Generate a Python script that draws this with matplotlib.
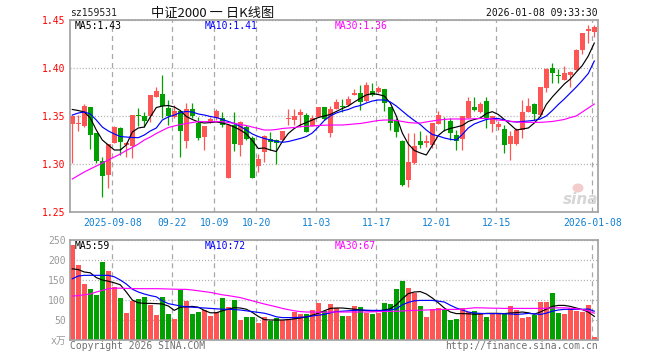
import matplotlib
matplotlib.use('Agg')
import matplotlib.pyplot as plt
from matplotlib.patches import Ellipse

# daily bars 2025-08-28 .. 2026-01-08 (88 trading days)
opens = [1.3417, 1.3419, 1.3396, 1.3594, 1.3320, 1.3034, 1.2885, 1.3222, 1.3375, 1.3203,
         1.3191, 1.3510, 1.3503, 1.3503, 1.3701, 1.3729, 1.3586, 1.3486, 1.3552, 1.3243,
         1.3573, 1.3424, 1.3284, 1.3440, 1.3476, 1.3483, 1.2854, 1.3411, 1.3198, 1.3389,
         1.3268, 1.2982, 1.3125, 1.3257, 1.3250, 1.3253, 1.3466, 1.3461, 1.3510, 1.3510,
         1.3398, 1.3493, 1.3589, 1.3323, 1.3571, 1.3604, 1.3615, 1.3719, 1.3736, 1.3656,
         1.3764, 1.3747, 1.3779, 1.3594, 1.3458, 1.3240, 1.2833, 1.3010, 1.3240, 1.3214,
         1.3193, 1.3420, 1.3482, 1.3448, 1.3307, 1.3264, 1.3476, 1.3594, 1.3542, 1.3656,
         1.3420, 1.3389, 1.3361, 1.3208, 1.3208, 1.3349, 1.3545, 1.3622, 1.3510, 1.3792,
         1.3997, 1.3927, 1.3878, 1.3922, 1.3979, 1.4188, 1.4385, 1.4378]
highs = [1.3510, 1.3510, 1.3622, 1.3595, 1.3323, 1.3076, 1.3210, 1.3396, 1.3385, 1.3229,
         1.3512, 1.3580, 1.3545, 1.3720, 1.3799, 1.3927, 1.3667, 1.3615, 1.3555, 1.3632,
         1.3635, 1.3493, 1.3398, 1.3490, 1.3568, 1.3545, 1.3417, 1.3545, 1.3448, 1.3406,
         1.3292, 1.3104, 1.3302, 1.3336, 1.3260, 1.3345, 1.3570, 1.3570, 1.3573, 1.3528,
         1.3510, 1.3597, 1.3597, 1.3604, 1.3674, 1.3672, 1.3708, 1.3778, 1.3823, 1.3857,
         1.3841, 1.3813, 1.3781, 1.3595, 1.3479, 1.3250, 1.3318, 1.3320, 1.3344, 1.3297,
         1.3427, 1.3549, 1.3493, 1.3476, 1.3354, 1.3500, 1.3700, 1.3693, 1.3646, 1.3703,
         1.3505, 1.3448, 1.3406, 1.3344, 1.3375, 1.3667, 1.3684, 1.3635, 1.3807, 1.3995,
         1.4055, 1.3986, 1.4021, 1.3964, 1.4193, 1.4365, 1.4448, 1.4448]
lows = [1.3007, 1.3347, 1.3390, 1.3156, 1.3007, 1.2659, 1.2753, 1.3219, 1.3094, 1.3076,
        1.3066, 1.3391, 1.3389, 1.3441, 1.3698, 1.3476, 1.3406, 1.3479, 1.3076, 1.3167,
        1.3479, 1.3250, 1.3146, 1.3430, 1.3458, 1.3385, 1.2851, 1.3135, 1.3086, 1.3250,
        1.2854, 1.2917, 1.3024, 1.3146, 1.3000, 1.3250, 1.3406, 1.3406, 1.3382, 1.3333,
        1.3396, 1.3490, 1.3458, 1.3284, 1.3568, 1.3542, 1.3609, 1.3714, 1.3563, 1.3651,
        1.3708, 1.3740, 1.3547, 1.3354, 1.3284, 1.2771, 1.2760, 1.3000, 1.3164, 1.3182,
        1.3167, 1.3417, 1.3344, 1.3250, 1.3146, 1.3151, 1.3474, 1.3547, 1.3536, 1.3372,
        1.3336, 1.3354, 1.3111, 1.3042, 1.3198, 1.3268, 1.3542, 1.3458, 1.3500, 1.3750,
        1.3841, 1.3841, 1.3875, 1.3799, 1.3974, 1.4146, 1.4264, 1.4320]
closes = [1.3503, 1.3427, 1.3604, 1.3302, 1.3031, 1.2878, 1.3208, 1.3385, 1.3232, 1.3219,
          1.3510, 1.3500, 1.3451, 1.3719, 1.3764, 1.3604, 1.3500, 1.3552, 1.3344, 1.3573,
          1.3500, 1.3268, 1.3396, 1.3470, 1.3555, 1.3403, 1.3411, 1.3211, 1.3438, 1.3260,
          1.2857, 1.3052, 1.3292, 1.3232, 1.3216, 1.3344, 1.3484, 1.3500, 1.3542, 1.3336,
          1.3474, 1.3589, 1.3467, 1.3573, 1.3649, 1.3591, 1.3677, 1.3736, 1.3649, 1.3823,
          1.3719, 1.3792, 1.3635, 1.3432, 1.3336, 1.2781, 1.3018, 1.3188, 1.3193, 1.3240,
          1.3424, 1.3510, 1.3474, 1.3323, 1.3240, 1.3500, 1.3661, 1.3563, 1.3625, 1.3484,
          1.3500, 1.3417, 1.3203, 1.3292, 1.3354, 1.3545, 1.3604, 1.3524, 1.3802, 1.3990,
          1.3948, 1.3915, 1.3948, 1.3961, 1.4188, 1.4361, 1.4403, 1.4424]

ma5 = [1.3568, 1.3557, 1.3542, 1.3479, 1.3354, 1.3250, 1.3198, 1.3146, 1.3146, 1.3198,
       1.3333, 1.3375, 1.3385, 1.3490, 1.3588, 1.3604, 1.3609, 1.3594, 1.3557, 1.3495,
       1.3464, 1.3438, 1.3427, 1.3432, 1.3438, 1.3427, 1.3411, 1.3385, 1.3354, 1.3313,
       1.3245, 1.3161, 1.3167, 1.3146, 1.3130, 1.3234, 1.3318, 1.3370, 1.3406, 1.3432,
       1.3458, 1.3484, 1.3500, 1.3516, 1.3547, 1.3578, 1.3604, 1.3646, 1.3684, 1.3719,
       1.3734, 1.3724, 1.3708, 1.3635, 1.3500, 1.3323, 1.3208, 1.3141, 1.3115, 1.3094,
       1.3193, 1.3297, 1.3349, 1.3370, 1.3385, 1.3401, 1.3443, 1.3464, 1.3479, 1.3526,
       1.3545, 1.3516, 1.3464, 1.3411, 1.3354, 1.3365, 1.3375, 1.3427, 1.3495, 1.3620,
       1.3698, 1.3766, 1.3833, 1.3885, 1.3958, 1.4026, 1.4125, 1.4260]
ma10 = [1.3510, 1.3531, 1.3542, 1.3521, 1.3458, 1.3385, 1.3344, 1.3313, 1.3286, 1.3281,
        1.3276, 1.3274, 1.3302, 1.3344, 1.3375, 1.3458, 1.3490, 1.3510, 1.3536, 1.3547,
        1.3542, 1.3521, 1.3510, 1.3495, 1.3484, 1.3464, 1.3443, 1.3422, 1.3391, 1.3354,
        1.3313, 1.3286, 1.3266, 1.3250, 1.3236, 1.3226, 1.3234, 1.3250, 1.3266, 1.3286,
        1.3323, 1.3385, 1.3453, 1.3500, 1.3531, 1.3552, 1.3568, 1.3594, 1.3609, 1.3635,
        1.3656, 1.3667, 1.3667, 1.3646, 1.3604, 1.3552, 1.3500, 1.3453, 1.3411, 1.3354,
        1.3307, 1.3292, 1.3271, 1.3257, 1.3250, 1.3307, 1.3375, 1.3417, 1.3441, 1.3464,
        1.3474, 1.3474, 1.3458, 1.3443, 1.3438, 1.3443, 1.3448, 1.3455, 1.3469, 1.3500,
        1.3557, 1.3620, 1.3677, 1.3740, 1.3802, 1.3870, 1.3943, 1.4073]
ma30 = [1.2844, 1.2880, 1.2917, 1.2948, 1.2979, 1.3010, 1.3042, 1.3073, 1.3104, 1.3141,
        1.3172, 1.3208, 1.3250, 1.3281, 1.3318, 1.3349, 1.3380, 1.3396, 1.3411, 1.3422,
        1.3432, 1.3441, 1.3441, 1.3441, 1.3441, 1.3441, 1.3432, 1.3424, 1.3411, 1.3401,
        1.3385, 1.3370, 1.3354, 1.3354, 1.3359, 1.3370, 1.3375, 1.3380, 1.3389, 1.3393,
        1.3396, 1.3401, 1.3404, 1.3406, 1.3406, 1.3406, 1.3411, 1.3417, 1.3422, 1.3432,
        1.3443, 1.3453, 1.3458, 1.3458, 1.3453, 1.3443, 1.3432, 1.3427, 1.3427, 1.3438,
        1.3448, 1.3458, 1.3464, 1.3469, 1.3469, 1.3469, 1.3469, 1.3472, 1.3474, 1.3476,
        1.3469, 1.3458, 1.3453, 1.3445, 1.3438, 1.3434, 1.3434, 1.3434, 1.3434, 1.3438,
        1.3443, 1.3453, 1.3464, 1.3484, 1.3500, 1.3542, 1.3583, 1.3625]

# volume in 万 (10k) shares
volume = [236.7, 186.7, 139.0, 126.7, 111.7, 194.0, 171.7, 132.5, 104.0, 66.7,
          96.7, 101.7, 106.7, 86.7, 61.7, 106.7, 64.0, 51.7, 124.0, 96.7,
          64.0, 69.0, 74.0, 59.0, 69.0, 104.0, 83.0, 99.0, 49.0, 56.7,
          56.7, 41.7, 56.7, 46.7, 54.0, 49.0, 51.7, 69.0, 64.0, 64.0,
          74.0, 91.7, 71.7, 89.0, 80.8, 60.0, 60.0, 85.0, 82.5, 68.0,
          64.0, 68.0, 91.7, 89.0, 126.7, 147.5, 129.0, 116.7, 84.0, 57.5,
          76.7, 79.0, 75.0, 49.0, 51.7, 80.8, 70.0, 72.5, 64.0, 57.5,
          68.0, 68.0, 64.0, 84.0, 74.0, 54.0, 57.5, 62.5, 94.0, 94.0,
          116.7, 66.7, 64.0, 79.0, 71.7, 69.0, 86.7, 6.7]
vol_ma5 = [178, 176, 170, 168, 156, 150, 147, 143, 138, 120,
           100, 93, 91.7, 91.5, 91, 90, 85, 74, 82, 83,
           84, 82, 74, 68, 68, 73, 77, 80.8, 80, 77,
           69, 59, 51, 50, 50, 50, 51, 53, 55, 57.5,
           62, 67, 73, 79, 80, 80, 78.5, 77, 75, 73.5,
           72.5, 72.5, 75, 78, 88, 103, 116, 120, 121, 115,
           105, 93, 80, 70, 66, 66, 65.5, 64.5, 65, 66.5,
           66.7, 66.5, 66, 67.5, 68.5, 70, 68, 64.5, 70, 77,
           84, 86.5, 86.5, 84, 80, 76, 70, 59]
vol_ma10 = [153, 160, 161.7, 161.7, 161.7, 161.7, 161.7, 158, 150, 140,
            127, 120, 115, 111, 108, 98, 91, 88, 85, 83,
            82, 81, 80, 79, 78, 77, 76.7, 76, 75, 73,
            71, 69, 67, 63, 58, 56, 56, 56, 57, 57.5,
            60, 62, 64, 68, 71, 72, 73, 74, 75, 74.5,
            74, 74, 74, 75, 78, 88, 94, 98, 99, 99,
            99, 97, 95, 87, 80, 75, 70, 67.5, 66.5, 66,
            66, 65.8, 65.8, 65, 64, 65, 66.5, 65.5, 64, 67,
            72, 75, 76.7, 76.7, 76.7, 76.7, 77.5, 72]
vol_ma30 = [110, 111, 113, 115, 120, 124, 128, 129.5, 129.5, 129,
            128.5, 128.3, 128.3, 128.3, 128.3, 128, 127.5, 127, 126.7, 126.5,
            125, 123, 121, 119, 116, 113, 111, 108.5, 106, 102,
            98, 94, 90, 86.5, 83, 79, 76, 73, 71, 70,
            70, 69.5, 69.5, 70, 70, 70, 70, 70, 70, 70,
            70.5, 71, 71, 71.5, 72, 72.5, 73.5, 74, 74.5, 75,
            75.5, 76, 76.5, 76.5, 76.5, 77, 79, 80.5, 80.5, 80,
            79.5, 79.5, 79, 79, 79, 79, 79, 79, 79, 79.5,
            80, 80.5, 80.5, 79.5, 78, 76, 73, 67]

tick_days = [7, 17, 24, 31, 41, 51, 61, 71, 87]
tick_labels = ['2025-09-08', '09-22', '10-09', '10-20', '11-03',
               '11-17', '12-01', '12-15', '2026-01-08']
price_ticks = [1.25, 1.30, 1.35, 1.40, 1.45]
vol_ticks = [0, 50, 100, 150, 200, 250]
vol_tick_labels = ['x万', '50', '100', '150', '200', '250']

RED = '#ff5555'
GREEN = '#00a000'
W, H = 660, 360

plt.rcParams['font.family'] = ['DejaVu Sans Mono', 'Noto Sans CJK SC']
plt.rcParams['lines.scale_dashes'] = False

fig = plt.figure(figsize=(W / 100, H / 100), dpi=100)


def box(left, top, right, bottom):
    # pixel box -> figure fraction rect
    return [left / W, 1 - bottom / H, (right - left) / W, (bottom - top) / H]


ax = fig.add_axes(box(70, 20, 598, 212))
axv = fig.add_axes(box(70, 240, 598, 340))

x = list(range(len(closes)))
colors = [RED if c >= o else GREEN for o, c in zip(opens, closes)]

# candles
ax.vlines(x, lows, highs, colors=colors, lw=0.9, zorder=2)
bottoms = [min(o, c) for o, c in zip(opens, closes)]
heights = [max(abs(c - o), 0.0007) for o, c in zip(opens, closes)]
ax.bar(x, heights, 0.82, bottoms, color=colors, lw=0, zorder=2)
ax.plot(x, ma5, color='black', lw=0.85, zorder=3)
ax.plot(x, ma10, color='#0000ff', lw=0.85, zorder=3)
ax.plot(x, ma30, color='#ff00ff', lw=0.85, zorder=3)

# volume
axv.bar(x, volume, 0.82, color=colors, lw=0, zorder=2)
axv.plot(x, vol_ma5, color='black', lw=0.85, zorder=3)
axv.plot(x, vol_ma10, color='#0000ff', lw=0.85, zorder=3)
axv.plot(x, vol_ma30, color='#ff00ff', lw=0.85, zorder=3)

for a in (ax, axv):
    a.set_xlim(-0.383, 87.617)
    a.set_xticks([d - 0.333 for d in tick_days])
    a.tick_params(length=0)
    for s in a.spines.values():
        s.set_color('#a0a0a0')
        s.set_linewidth(1.2)
        s.set_zorder(5)
    a.grid(axis='x', color='#a8a8a8', lw=0.9, ls=(0, (3.6, 2.9)))
    a.grid(axis='y', color='#b0b0b0', lw=0.9, ls=(0, (0.8, 1.4)))
    a.set_axisbelow(True)

ax.set_ylim(1.25, 1.45)
ax.set_yticks(price_ticks)
ax.set_yticklabels([f'{v:.2f}' for v in price_ticks], color='#ff0000', fontsize=7)
ax.set_xticklabels(tick_labels, color='#0f7fd2', fontsize=7)
ax.tick_params(axis='y', pad=3)
ax.tick_params(axis='x', pad=4.5)

axv.set_ylim(0, 250)
axv.set_yticks(vol_ticks)
axv.set_yticklabels(vol_tick_labels, color='#9a9a9a', fontsize=7)
axv.set_xticklabels([])
axv.tick_params(axis='y', pad=3)


def ftext(px, py, s, size=7, **kw):
    fig.text(px / W, 1 - py / H, s, va='center', fontsize=size, **kw)


# header
ftext(70, 13, 'sz159531', color='#222222')
ftext(151, 13, '中证2000 一 日K线图', size=9.5, color='#111111',
      family=['Noto Sans CJK SC', 'DejaVu Sans'])
ftext(598, 13, '2026-01-08 09:33:30', color='#111111', ha='right')

# moving-average legends
ftext(75, 26, f'MA5:{ma5[-1]:.2f}', color='black')
ftext(205, 26, f'MA10:{ma10[-1]:.2f}', color='#0000ff')
ftext(335, 26, f'MA30:{ma30[-1]:.2f}', color='#ff00ff')
ftext(75, 246, f'MA5:{vol_ma5[-1]:.0f}', color='black')
ftext(205, 246, f'MA10:{vol_ma10[-1]:.0f}', color='#0000ff')
ftext(335, 246, f'MA30:{vol_ma30[-1]:.0f}', color='#ff00ff')

# footer
ftext(70, 346, 'Copyright 2026 SINA.COM', color='#707070')
ftext(598, 346, 'http://finance.sina.com.cn', color='#707070', ha='right')

# faint sina watermark
fig.patches.append(Ellipse((578 / W, 1 - 188 / H), 11 / W, 9 / H,
                           transform=fig.transFigure, fc='#f4cccc', ec='none'))
ftext(581, 199, 'sina', size=11, color='#d6d6d6', style='italic',
      weight='bold', ha='center', family='DejaVu Sans')

fig.savefig('out.png', dpi=100)
